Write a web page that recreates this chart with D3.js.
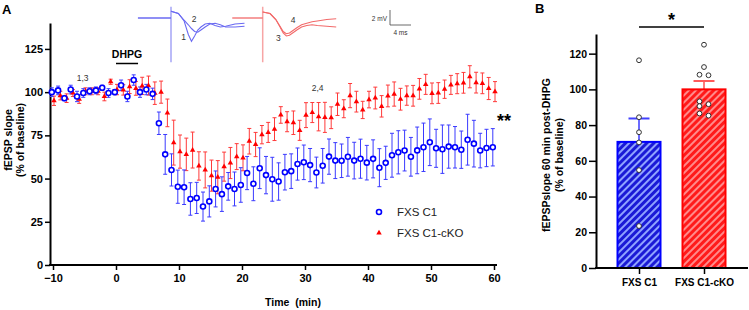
<!DOCTYPE html>
<html>
<head>
<meta charset="utf-8">
<script src="https://cdn.jsdelivr.net/npm/d3@7"></script>
<style>
body { margin: 0; background: #fff; }
svg { font-family: "Liberation Sans", Arial, sans-serif; }
.axis text { font-weight: bold; fill: #000; }
.axis line { stroke: #000; stroke-width: 1.5; }
.axis path { stroke: #000; stroke-width: 2; }
</style>
</head>
<body>
<svg width="749" height="310"></svg>
<script>
// ---- panel A: time course (% of baseline), one point per minute ----
var minutes = d3.range(-10, 61);
var c1Mean = [100,101,96.5,101.5,97.5,99.5,100.5,101,102.5,99.5,
  100,104,97.5,107,100,101.5,99,82,64,55,
  45.3,45,38.2,38.8,33.8,36.8,44,41,45.5,44,
  46.3,53.2,47,56,52,49.6,48.3,53.7,54.3,58.4,
  59.4,57.8,53.5,57.4,62.7,60.4,60.3,62.6,60.4,61.5,
  59.2,61.4,56.3,59.1,63.5,65.2,66.2,62.6,66.3,68.1,
  71,67.5,67,68.5,68.1,66.7,72.5,70.2,66.2,67.7,68.1];
var c1Sem = [2.5,2.5,1.5,2.5,3,2.5,2,2,1.5,2.5,
  1.5,3,3,3,3,3,3.3,6.5,11.5,9.3,
  9.6,10,9.4,9,8.4,9,10.4,10,8,9.8,
  10,9.6,9.8,11.8,10.8,12.7,10.8,10.3,10,9.3,
  10,9.6,8.9,10,10.2,10.4,9.7,11.2,10.6,11.3,
  10,11,11,9.6,12.7,12.5,11.8,11.2,13.5,14,
  13.5,11,14,12.5,12,10.8,14.7,13.5,10,10.8,10.8];
var ckoMean = [95,98,96.5,99.5,96,100.5,100.5,100.5,97.5,106,
  101.5,101.3,103.2,102.2,103.6,103.8,99.4,100,88,70.8,
  65.6,64,66.5,57.3,55,51.7,50.8,56.9,59,62.7,
  62,71.6,69.7,75.4,76.7,78.6,86.8,82.9,82.3,77.9,
  86.7,88.2,85.8,85.4,85.2,93,90.4,98,94.5,89.7,
  95.7,96.6,91.8,97.8,98.9,95.9,98,97.9,101.9,104.5,
  99.3,99.5,101.7,104.2,104.9,105.4,108.9,105.5,105.1,102.1,100.3];
var ckoSem = [2.7,2.5,2.5,2,2.5,2,2,2,2.5,1.5,
  3,3,4,4,5,5.5,6.5,6.4,8,13,
  9.6,9.4,10.4,8.2,10.4,9,9.6,8.4,9,7.5,
  7.5,7.4,7,5.3,5.8,6.6,4.8,5.8,6.8,5.8,
  7.2,5.8,8.2,8.7,6.3,6.5,5.2,7,6,5,
  4.8,6.3,6.2,6.3,7,6.3,5.6,6,6,5.8,
  6,6,5.3,5.5,5.8,6,6.4,6,6,6.4,5.8];
var xTicksA = [-10,0,10,20,30,40,50,60];
var yTicksA = [0,25,50,75,100,125];
var dhpgWindow = [0, 3.5];
var seriesNames = ["FXS C1", "FXS C1-cKO"];

// inset traces: time (ms) after stimulus, amplitude (mV)
var traceMs = [0,1.4,2.5,3.3,3.9,4.5,5.1,5.7,6.5,7.4,8.4,9.4,10.4,12.2,14];
var trace1 = [0.9,0.6,-0.4,-2.2,-3.1,-2.4,-1.6,-1.2,-0.8,-0.7,-1.0,-1.2,-1.1,-0.8,-0.7];
var trace2 = [0.9,0.6,-0.3,-0.9,-1.4,-1.8,-1.9,-1.6,-1.2,-0.8,-0.7,-0.9,-1.2,-1.2,-1.1];
var trace3 = [0.8,0.6,-0.2,-1.2,-2.0,-2.4,-2.3,-2.0,-1.6,-1.2,-1.0,-0.9,-1.0,-1.1,-1.2];
var trace4 = [0.8,0.6,-0.2,-1.1,-1.8,-2.1,-2.0,-1.7,-1.3,-0.9,-0.7,-0.5,-0.4,-0.2,-0.1];

// ---- panel B: 60 min post-DHPG ----
var groups = ["FXS C1", "FXS C1-cKO"];
var barMean = [70.6, 100];
var barSem = [13.1, 4.7];
var c1Points = [116.3,84.4,76,70.3,54.8,23.5];
var ckoPoints = [125,112.5,108.2,107.9,93.3,91.7,90.6,86.5,85.3];
var yTicksB = [0,20,40,60,80,100,120];

var blue = "#0000ff", red = "#ff0000";
var svg = d3.select("svg");

// ===== panel A =====
var xA = d3.scaleLinear().domain([-10, 60]).range([53, 494]);
var yA = d3.scaleLinear().domain([0, 140]).range([265, 23]);

var gA = svg.append("g");
gA.append("g")
    .attr("class", "axis")
    .attr("transform", "translate(50,0)")
    .call(d3.axisLeft(yA).tickValues(yTicksA).tickSize(5).tickPadding(2).tickSizeOuter(0))
    .selectAll("text").style("font-size", "11px");

var xAxisA = gA.append("g")
    .attr("class", "axis")
    .attr("transform", "translate(0,265)")
    .call(d3.axisBottom(xA).tickValues(xTicksA).tickSize(5).tickPadding(4).tickSizeOuter(0));
xAxisA.select(".domain").remove();
xAxisA.selectAll("text").style("font-size", "11px");
gA.append("line").attr("x1", 49).attr("x2", 497).attr("y1", 265).attr("y2", 265)
    .attr("stroke", "#000").attr("stroke-width", 2);

// series, red first so the blue sits on top
function seriesData(mean, sem) {
  return minutes.map(function(t, i) { return {t: t, m: mean[i], s: sem[i]}; });
}
var series = [
  {name: seriesNames[1], color: red, errColor: "#ff3a3a", nudge: 1, data: seriesData(ckoMean, ckoSem)},
  {name: seriesNames[0], color: blue, errColor: "#3a3aff", nudge: -1.2, data: seriesData(c1Mean, c1Sem)}
];

series.forEach(function(s) {
  var g = gA.append("g");
  var eb = g.selectAll(".eb").data(s.data).enter().append("g")
      .attr("stroke", s.errColor).attr("stroke-width", 1);
  eb.append("line")
      .attr("x1", function(d) { return xA(d.t) + s.nudge; })
      .attr("x2", function(d) { return xA(d.t) + s.nudge; })
      .attr("y1", function(d) { return yA(d.m - d.s); })
      .attr("y2", function(d) { return yA(d.m + d.s); });
  [-1, 1].forEach(function(sign) {
    eb.append("line")
        .attr("x1", function(d) { return xA(d.t) + s.nudge - 2; })
        .attr("x2", function(d) { return xA(d.t) + s.nudge + 2; })
        .attr("y1", function(d) { return yA(d.m + sign * d.s); })
        .attr("y2", function(d) { return yA(d.m + sign * d.s); });
  });
});

var tri = d3.symbol().type(d3.symbolTriangle).size(13);
gA.append("g").selectAll("path").data(series[0].data).enter().append("path")
    .attr("d", tri)
    .attr("transform", function(d) { return "translate(" + (xA(d.t) + 1) + "," + yA(d.m) + ")"; })
    .attr("fill", red);
gA.append("g").selectAll("circle").data(series[1].data).enter().append("circle")
    .attr("cx", function(d) { return xA(d.t) - 1.2; })
    .attr("cy", function(d) { return yA(d.m); })
    .attr("r", 2.5)
    .attr("fill", "#fff").attr("stroke", blue).attr("stroke-width", 1.6);

// DHPG bar
gA.append("line")
    .attr("x1", xA(dhpgWindow[0])).attr("x2", xA(dhpgWindow[1]))
    .attr("y1", 63.5).attr("y2", 63.5)
    .attr("stroke", "#000").attr("stroke-width", 1.5);
gA.append("text").attr("x", xA(d3.mean(dhpgWindow))).attr("y", 58)
    .attr("text-anchor", "middle").style("font-weight", "bold").style("font-size", "10.5px")
    .text("DHPG");

gA.append("text").attr("x", xA(-5.3)).attr("y", 81).attr("text-anchor", "middle")
    .style("font-size", "8.5px").attr("fill", "#333").text("1,3");
gA.append("text").attr("x", xA(32)).attr("y", 91).attr("text-anchor", "middle")
    .style("font-size", "8.5px").attr("fill", "#333").text("2,4");

gA.append("text").attr("x", 497).attr("y", 127)
    .style("font-weight", "bold").style("font-size", "18px").text("**");

// axis titles
gA.append("text").attr("transform", "translate(12,140) rotate(-90)")
    .attr("text-anchor", "middle").style("font-weight", "bold").style("font-size", "10.5px")
    .text("fEPSP slope");
gA.append("text").attr("transform", "translate(24,140) rotate(-90)")
    .attr("text-anchor", "middle").style("font-weight", "bold").style("font-size", "10.5px")
    .text("(% of baseline)");
gA.append("text").attr("x", 293).attr("y", 306).attr("text-anchor", "middle")
    .style("font-weight", "bold").style("font-size", "10.5px").attr("xml:space", "preserve")
    .text("Time  (min)");

gA.append("text").attr("x", 2).attr("y", 14).style("font-weight", "bold").style("font-size", "13px").text("A");

// legend
var leg = gA.append("g");
leg.append("circle").attr("cx", 379).attr("cy", 212).attr("r", 2.5)
    .attr("fill", "#fff").attr("stroke", blue).attr("stroke-width", 1.6);
leg.append("path").attr("d", tri).attr("transform", "translate(379,233)").attr("fill", red);
leg.selectAll("text").data(seriesNames).enter().append("text")
    .attr("x", 397).attr("y", function(d, i) { return 216 + i * 21; })
    .style("font-size", "11.5px").attr("fill", "#222")
    .text(function(d) { return d; });

// ===== insets =====
var msX = d3.scaleLinear().domain([0, 4]).range([0, 21]);
var mvY = d3.scaleLinear().domain([0, 2]).range([0, -15]);
var traceLine = d3.line()
    .x(function(d) { return msX(d[0]); })
    .y(function(d) { return mvY(d[1]); });

function inset(x0, y0, preMs, traces, color, labels) {
  var g = svg.append("g").attr("transform", "translate(" + x0 + "," + y0 + ")");
  g.append("path").attr("d", traceLine([[-preMs, 0], [0, 0]]))
      .attr("fill", "none").attr("stroke", color).attr("stroke-width", 1.3);
  g.append("line").attr("x1", 0).attr("x2", 0).attr("y1", mvY(1.5)).attr("y2", mvY(-5.9))
      .attr("stroke", color).attr("stroke-width", 1.5).attr("opacity", 0.6);
  traces.forEach(function(tr) {
    g.append("path").attr("d", traceLine(traceMs.map(function(t, i) { return [t, tr[i]]; })))
        .attr("fill", "none").attr("stroke", color).attr("stroke-width", 1.1);
  });
  labels.forEach(function(l) {
    g.append("text").attr("x", msX(l.ms)).attr("y", mvY(l.mv))
        .attr("text-anchor", "middle").style("font-size", "8.5px").attr("fill", "#333").text(l.text);
  });
}
inset(171, 18, 6.3, [trace1, trace2], "#6a6af2",
  [{ms: 2.4, mv: -2.9, text: "1"}, {ms: 4.4, mv: -0.5, text: "2"}]);
inset(262.7, 18, 5.8, [trace3, trace4], "#f26a6a",
  [{ms: 3.0, mv: -3.0, text: "3"}, {ms: 5.8, mv: -0.7, text: "4"}]);

// scale bar
var sb = svg.append("g").attr("transform", "translate(390,25)");
sb.append("path").attr("d", "M0," + mvY(2) + "V0H" + msX(4))
    .attr("fill", "none").attr("stroke", "#444").attr("stroke-width", 0.8);
sb.append("text").attr("x", -3).attr("y", -4).attr("text-anchor", "end")
    .style("font-size", "6.5px").attr("fill", "#333").text("2 mV");
sb.append("text").attr("x", msX(2)).attr("y", 10).attr("text-anchor", "middle")
    .style("font-size", "6.5px").attr("fill", "#333").text("4 ms");

// ===== panel B =====
var xB = d3.scalePoint().domain(groups).range([639, 704]);
var yB = d3.scaleLinear().domain([0, 131]).range([268, 34]);
var barW = 43;

var defs = svg.append("defs");
[["hatchBlue", "#1a1ad6", "#8fa2ff"], ["hatchRed", "#ff1a1a", "#ff8a8a"]].forEach(function(p) {
  var pat = defs.append("pattern").attr("id", p[0]).attr("patternUnits", "userSpaceOnUse")
      .attr("width", 5).attr("height", 5).attr("patternTransform", "rotate(45)");
  pat.append("rect").attr("width", 5).attr("height", 5).attr("fill", p[1]);
  pat.append("rect").attr("width", 2).attr("height", 5).attr("fill", p[2]);
});

var gB = svg.append("g");
var barColors = [blue, red];
var errColorsB = ["#6b6bff", "#ff7a7a"];
var hatches = ["url(#hatchBlue)", "url(#hatchRed)"];

// error bars (upward only)
groups.forEach(function(gname, i) {
  var cx = xB(gname);
  gB.append("line").attr("x1", cx).attr("x2", cx)
      .attr("y1", yB(barMean[i])).attr("y2", yB(barMean[i] + barSem[i]))
      .attr("stroke", errColorsB[i]).attr("stroke-width", 2);
  gB.append("line").attr("x1", cx - 10.5).attr("x2", cx + 10.5)
      .attr("y1", yB(barMean[i] + barSem[i])).attr("y2", yB(barMean[i] + barSem[i]))
      .attr("stroke", i === 0 ? "#4040ff" : "#ff5a5a").attr("stroke-width", 2);
});

gB.selectAll(".bar").data(groups).enter().append("rect")
    .attr("x", function(d) { return xB(d) - barW / 2; })
    .attr("y", function(d, i) { return yB(barMean[i]); })
    .attr("width", barW)
    .attr("height", function(d, i) { return yB(0) - yB(barMean[i]); })
    .attr("fill", function(d, i) { return hatches[i]; })
    .attr("stroke", function(d, i) { return barColors[i]; })
    .attr("stroke-width", 2);

// individual points, arranged side by side where they would overlap
function swarm(values, cx) {
  var sorted = values.slice().sort(function(a, b) { return b - a; });
  var bins = [];
  sorted.forEach(function(v) {
    var last = bins[bins.length - 1];
    if (last && yB(v) - yB(last[last.length - 1]) < 6) last.push(v);
    else bins.push([v]);
  });
  var out = [];
  bins.forEach(function(b) {
    b.forEach(function(v, j) {
      out.push({x: b.length === 1 ? cx : cx + (j % 2 === 0 ? -4.5 : 4.5), y: yB(v)});
    });
  });
  return out;
}
[c1Points, ckoPoints].forEach(function(vals, i) {
  gB.append("g").selectAll("circle").data(swarm(vals, xB(groups[i]))).enter().append("circle")
      .attr("cx", function(d) { return d.x; })
      .attr("cy", function(d) { return d.y; })
      .attr("r", 2.4)
      .attr("fill", "#fff").attr("stroke", "#333").attr("stroke-width", 1);
});

gB.append("g")
    .attr("class", "axis")
    .attr("transform", "translate(596,0)")
    .call(d3.axisLeft(yB).tickValues(yTicksB).tickSize(7).tickPadding(2).tickSizeOuter(0))
    .selectAll("text").style("font-size", "10.5px");
var xAxisB = gB.append("g")
    .attr("class", "axis")
    .attr("transform", "translate(0,268)")
    .call(d3.axisBottom(xB).tickSize(6).tickPadding(5).tickSizeOuter(0));
xAxisB.select(".domain").remove();
xAxisB.selectAll("text").style("font-size", "10px");
gB.append("line").attr("x1", 595).attr("x2", 748).attr("y1", 268).attr("y2", 268)
    .attr("stroke", "#000").attr("stroke-width", 2);

gB.append("text").attr("transform", "translate(550,155) rotate(-90)")
    .attr("text-anchor", "middle").style("font-weight", "bold").style("font-size", "10.5px")
    .text("fEPSPslope 60 min post-DHPG");
gB.append("text").attr("transform", "translate(563,155) rotate(-90)")
    .attr("text-anchor", "middle").style("font-weight", "bold").style("font-size", "10.5px")
    .text("(% of baseline)");

gB.append("line").attr("x1", xB(groups[0])).attr("x2", xB(groups[1]))
    .attr("y1", 27).attr("y2", 27).attr("stroke", "#000").attr("stroke-width", 1.5);
gB.append("text").attr("x", (xB(groups[0]) + xB(groups[1])) / 2).attr("y", 26)
    .attr("text-anchor", "middle").style("font-weight", "bold").style("font-size", "18px").text("*");

gB.append("text").attr("x", 535).attr("y", 13).style("font-weight", "bold").style("font-size", "13px").text("B");
</script>
</body>
</html>
